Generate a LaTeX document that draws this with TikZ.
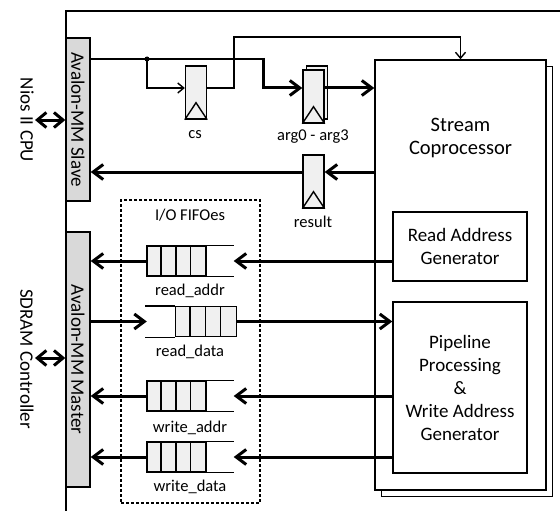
\documentclass[tikz,border=0pt]{standalone}
\usepackage{fontspec}
\setmainfont{Carlito}
\usepackage{tikz}
\usetikzlibrary{arrows.meta}
\definecolor{regfill}{HTML}{F0F0F0}
\definecolor{busfill}{HTML}{D9D9D9}
\newcommand{\boxfont}{\fontsize{19}{23}\selectfont}
\newcommand{\bigfont}{\fontsize{20.5}{23.5}\selectfont}
\newcommand{\labfont}{\fontsize{16.5}{20}\selectfont}

\begin{document}
\begin{tikzpicture}[x=1pt,y=-1pt,
  thinline/.style={line width=1.4pt},
  bus/.style={draw, line width=1.4pt, fill=busfill, minimum width=24pt, inner sep=0pt},
  reg/.style={draw, line width=1.4pt, fill=regfill, minimum width=21pt, minimum height=53pt, inner sep=0pt},
  fifo/.style={draw, line width=1.4pt, fill=regfill, minimum height=30pt, inner sep=0pt},
  block/.style={draw, line width=1.4pt, fill=white, align=center, inner sep=0pt, font=\boxfont},
  lab/.style={font=\labfont},
  side/.style={font=\boxfont, rotate=-90},
  thinarrow/.style={line width=1.4pt, -{Straight Barb[length=6pt,width=10pt]}},
  bigarrow/.style={line width=3pt, -{Straight Barb[length=10pt,width=15pt]}},
  dblarrow/.style={line width=3pt, {Straight Barb[length=9pt,width=15pt]}-{Straight Barb[length=9pt,width=15pt]}}]
\useasboundingbox (0,0) rectangle (560,511);
%%%%%%%%%%%%%%%%%%%%%%%%%%%%%%%%%%%%%%%%%%%%%%%%%%
% frame and bus interfaces
%%%%%%%%%%%%%%%%%%%%%%%%%%%%%%%%%%%%%%%%%%%%%%%%%%
  \draw[thinline] (66,515) -- (66,11) -- (565,11);

  \node[bus, minimum height=163pt, label={[side]center:Avalon-MM Slave}] (slave) at (78,119.5) {};
  \node[bus, minimum height=255pt, label={[side]center:Avalon-MM Master}] (master) at (78,359.5) {};

  \node[side] (nios) at (27,120) {Nios II CPU};
  \node[side] (sdram) at (27,359) {SDRAM Controller};

  \coordinate (cpu) at (35,120);
  \coordinate (mem) at (35,358);
  \draw[dblarrow] (cpu) -- (slave.west |- cpu);
  \draw[dblarrow] (mem) -- (master.west |- mem);
%%%%%%%%%%%%%%%%%%%%%%%%%%%%%%%%%%%%%%%%%%%%%%%%%%
% stream coprocessor
%%%%%%%%%%%%%%%%%%%%%%%%%%%%%%%%%%%%%%%%%%%%%%%%%%
  \node[block, minimum width=171pt, minimum height=430pt] (shadow) at (467,281.5) {};
  \node[block, minimum width=171pt, minimum height=430pt] (stream) at (460.5,275) {};
  \node[font=\bigfont, align=center] (streamlab) at (460.5,138) {Stream\\Coprocessor};
  \node[block, minimum width=134pt, minimum height=69pt] (rag) at (460,246.5) {Read Address\\Generator};
  \node[block, minimum width=134pt, minimum height=171pt] (ppg) at (460,387.5)
    {Pipeline\\Processing\\\&\\Write Address\\Generator};
%%%%%%%%%%%%%%%%%%%%%%%%%%%%%%%%%%%%%%%%%%%%%%%%%%
% registers
%%%%%%%%%%%%%%%%%%%%%%%%%%%%%%%%%%%%%%%%%%%%%%%%%%
  \node[reg] (cs) at (196,92.5) {};
  \node[reg] (argb) at (317,92.5) {};
  \node[reg] (argf) at (313.5,96.5) {};
  \node[reg] (res) at (313.5,181.5) {};
  \foreach \r in {cs,argf,res}
    \draw[thinline] (\r.south west) -- ([yshift=17pt]\r.south) -- (\r.south east);

  \node[lab] (cslab) at (195,135) {cs};
  \node[lab] (arglab) at (313,137) {arg0 - arg3};
  \node[lab] (reslab) at (313,222) {result};

  \coordinate (split) at (147,59);
  \coordinate (bend) at (263,59);
  \coordinate (argin) at ([yshift=8.5pt]argf.west);
  \coordinate (argout) at ([yshift=8.5pt]argf.east);
  \coordinate (csin) at ([yshift=4.5pt]cs.west);
  \coordinate (csout) at ([yshift=4.5pt]cs.east);
  \coordinate (csup) at (234,37);
  \coordinate (resin) at ([yshift=9.5pt]res.east);
  \coordinate (resout) at ([yshift=9.5pt]res.west);

  \draw[line width=1.9pt] (slave.east |- split) -- ([xshift=1pt]bend);
  \draw[bigarrow] ([yshift=1pt]bend) -- (bend |- argin) -- (argin);
  \draw[bigarrow] (argout) -- (stream.west |- argout);
  \fill (split) circle (2.5pt);
  \draw[thinarrow] (split) -- (split |- csin) -- (csin);
  \draw[thinarrow] (csout) -| (csup) -| (stream.north);

  \draw[bigarrow] (stream.west |- resin) -- (resin);
  \draw[bigarrow] (resout) -- (slave.east |- resout);
%%%%%%%%%%%%%%%%%%%%%%%%%%%%%%%%%%%%%%%%%%%%%%%%%%
% I/O FIFOes
%%%%%%%%%%%%%%%%%%%%%%%%%%%%%%%%%%%%%%%%%%%%%%%%%%
  \node[draw, thinline, dash pattern=on 3pt off 2pt, minimum width=139pt, minimum height=303pt] (iobox) at (190.5,351.5) {};
  \node[lab] (iolab) at (190,215) {I/O FIFOes};

  \node[fifo, minimum width=59pt] (raddr) at (176.5,261) {};
  \node[fifo, minimum width=61pt] (rdata) at (206,321.5) {};
  \node[fifo, minimum width=59pt] (waddr) at (176.5,396) {};
  \node[fifo, minimum width=59pt] (wdata) at (176.5,457) {};
  \foreach \f in {raddr,waddr,wdata} {
    \foreach \k in {1,2,3}
      \draw[thinline] ([xshift=\k*14.75pt]\f.north west) -- ([xshift=\k*14.75pt]\f.south west);
    \draw[thinline] (\f.north east) -- ++(27,0);
    \draw[thinline] (\f.south east) -- ++(27,0);
  }
  \foreach \k in {1,2,3}
    \draw[thinline] ([xshift=\k*15.25pt]rdata.north west) -- ([xshift=\k*15.25pt]rdata.south west);
  \draw[thinline] (rdata.north west) -- ++(-30,0);
  \draw[thinline] (rdata.south west) -- ++(-30,0);

  \node[lab] (raddrlab) at (190,291) {read\_addr};
  \node[lab] (rdatalab) at (190,352) {read\_data};
  \node[lab] (waddrlab) at (190,428) {write\_addr};
  \node[lab] (wdatalab) at (190,487) {write\_data};

  \draw[bigarrow] (rag.west |- raddr) -- ([xshift=27pt]raddr.east);
  \draw[bigarrow] (raddr.west) -- (master.east |- raddr);
  \draw[bigarrow] (master.east |- rdata) -- ([xshift=-28pt]rdata.west);
  \draw[bigarrow] (rdata.east) -- (ppg.west |- rdata);
  \draw[bigarrow] (ppg.west |- waddr) -- ([xshift=27pt]waddr.east);
  \draw[bigarrow] (waddr.west) -- (master.east |- waddr);
  \draw[bigarrow] (ppg.west |- wdata) -- ([xshift=27pt]wdata.east);
  \draw[bigarrow] (wdata.west) -- (master.east |- wdata);
\end{tikzpicture}
\end{document}
